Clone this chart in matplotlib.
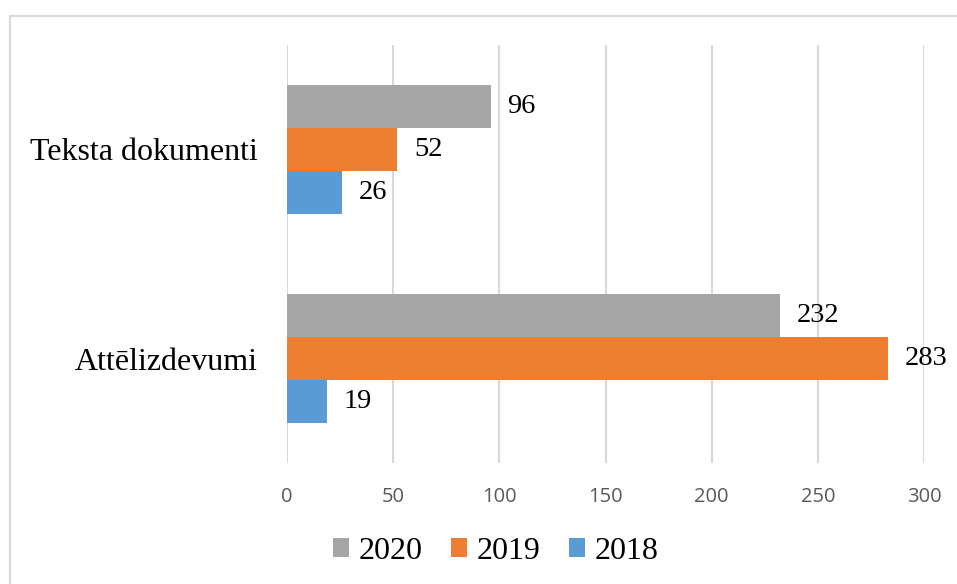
import matplotlib.pyplot as plt
import numpy as np
from matplotlib.patches import Rectangle

# Chart data
categories = ["Attēlizdevumi", "Teksta dokumenti"]
years = ["2020", "2019", "2018"]
values_2020 = [232, 96]
values_2019 = [283, 52]
values_2018 = [19, 26]
colors = ["#A5A5A5", "#ED7D31", "#5B9BD5"]
xticks = [0, 50, 100, 150, 200, 250, 300]

fig = plt.figure(figsize=(9.57, 5.84), dpi=100)
ax = fig.add_axes([287 / 957, 121 / 584, 637 / 957, 418 / 584])

# Light grey chart frame
fig.patches.append(Rectangle((10 / 957, -0.1), 1.0, (584 - 16) / 584 + 0.1,
                             transform=fig.transFigure, fill=False,
                             edgecolor="#D9D9D9", linewidth=1.5))

y = np.arange(len(categories))
h = 0.205
series = [values_2020, values_2019, values_2018]
offsets = [h, 0, -h]

for vals, off, col, lab in zip(series, offsets, colors, years):
    bars = ax.barh(y + off, vals, height=h, color=col, label=lab, zorder=2)
    ax.bar_label(bars, padding=12, fontsize=20.5, family="Liberation Serif")

ax.set_xlim(0, 300)
ax.set_ylim(-0.5, 1.5)
ax.set_xticks(xticks)
ax.set_yticks(y)
ax.set_yticklabels(categories, family="Liberation Serif", fontsize=23)
for lbl in ax.get_xticklabels():
    lbl.set_family("Open Sans")
    lbl.set_fontsize(14.5)
    lbl.set_color("#595959")
ax.tick_params(axis="x", length=0, pad=17)
ax.tick_params(axis="y", length=0, pad=21)
ax.grid(axis="x", color="#D9D9D9", linewidth=1.5, zorder=0)
for s in ax.spines.values():
    s.set_visible(False)

fig.legend(loc="center", bbox_to_anchor=(0.518, 0.056), ncol=3, frameon=False,
           prop={"family": "Liberation Serif", "size": 23}, handlelength=0.5,
           handleheight=0.5, handletextpad=0.3, columnspacing=0.9)

plt.savefig("out.png", dpi=100)
